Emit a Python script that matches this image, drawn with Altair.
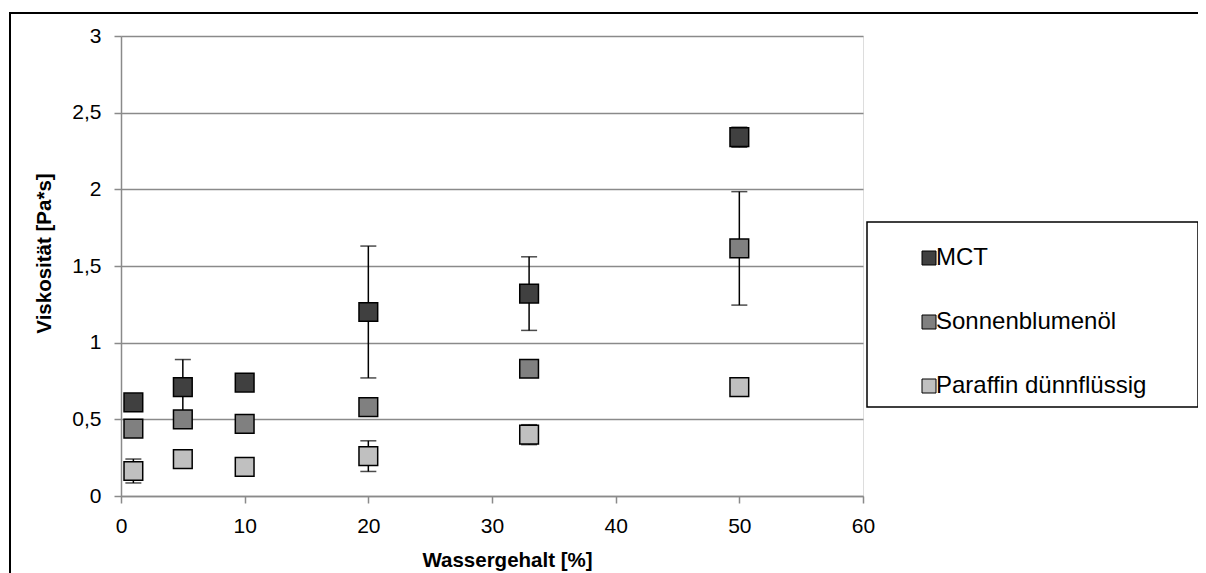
import altair as alt
import pandas as pd

x_vals = [1, 5, 10, 20, 33, 50]
series = ["MCT", "Sonnenblumenöl", "Paraffin dünnflüssig"]
mct = [0.61, 0.71, 0.74, 1.20, 1.32, 2.34]
mct_err = [0, 0.18, 0, 0.43, 0.24, 0.065]
sonnen = [0.44, 0.50, 0.47, 0.58, 0.83, 1.615]
sonnen_err = [0, 0, 0, 0, 0, 0.37]
paraffin = [0.163, 0.24, 0.19, 0.26, 0.40, 0.71]
paraffin_err = [0.078, 0, 0, 0.10, 0.065, 0]
colors = ["#404040", "#808080", "#c0c0c0"]
y_ticks = [0, 0.5, 1, 1.5, 2, 2.5, 3]
x_ticks = [0, 10, 20, 30, 40, 50, 60]

rows = []
for name, ys, es in zip(series, [mct, sonnen, paraffin], [mct_err, sonnen_err, paraffin_err]):
    for x, y, e in zip(x_vals, ys, es):
        rows.append({"x": x, "y": y, "err": e, "lo": y - e, "hi": y + e, "series": name})
df = pd.DataFrame(rows)
err_df = df[df["err"] > 0]
one = pd.DataFrame({"k": [0]})

FONT = "Liberation Sans"
GRID = "#8a8a8a"

xs = alt.Scale(domain=[0, 60], nice=False, zero=False)
ys = alt.Scale(domain=[0, 3], nice=False)

x_axis = alt.Axis(values=x_ticks, grid=False, domainColor=GRID, domainWidth=1.5,
                  tickColor=GRID, tickWidth=1.5, tickSize=7, labelFontSize=21,
                  labelFont=FONT, labelColor="black", labelPadding=12, labelFlush=False,
                  title="Wassergehalt [%]", titleFont=FONT, titleFontSize=20.5,
                  titleFontWeight="bold", titleColor="black", titleX=386,
                  titleY=70, titleBaseline="alphabetic", titleAlign="center")
y_axis = alt.Axis(values=y_ticks, grid=True, gridColor=GRID, gridWidth=1.5,
                  domainColor=GRID, domainWidth=1.5, tickColor=GRID, tickWidth=1.5,
                  tickSize=7, labelFontSize=21, labelFont=FONT, labelColor="black",
                  labelPadding=13, labelFlush=False,
                  labelExpr="replace(format(datum.value, '~g'), '.', ',')",
                  title="Viskosität [Pa*s]", titleFont=FONT, titleFontSize=20.5,
                  titleFontWeight="bold", titleColor="black", titleAngle=270,
                  titleX=-77, titleY=217, titleAlign="center", titleBaseline="middle")

border_left = alt.Chart(one).mark_rule(color="black", strokeWidth=2).encode(
    x=alt.value(-111), y=alt.value(-23), y2=alt.value(560))
border_top = alt.Chart(one).mark_rule(color="black", strokeWidth=2).encode(
    x=alt.value(-112), x2=alt.value(1090), y=alt.value(-23))
legend_box = alt.Chart(one).mark_rect(fill="white", stroke="black", strokeWidth=1.5).encode(
    x=alt.value(746), x2=alt.value(1077), y=alt.value(186), y2=alt.value(371))

base = alt.Chart(df)
err_rule = alt.Chart(err_df).mark_rule(color="black", strokeWidth=1.5).encode(
    x=alt.X("x:Q", scale=xs, axis=x_axis),
    y=alt.Y("lo:Q", scale=ys, axis=y_axis),
    y2="hi:Q")
cap_lo = alt.Chart(err_df).mark_tick(color="black", orient="horizontal", size=16, thickness=1.5).encode(
    x=alt.X("x:Q", scale=xs), y=alt.Y("lo:Q", scale=ys))
cap_hi = alt.Chart(err_df).mark_tick(color="black", orient="horizontal", size=16, thickness=1.5).encode(
    x=alt.X("x:Q", scale=xs), y=alt.Y("hi:Q", scale=ys))
points = base.mark_square(size=350, stroke="black", strokeWidth=1.5, opacity=1).encode(
    x=alt.X("x:Q", scale=xs),
    y=alt.Y("y:Q", scale=ys),
    fill=alt.Fill("series:N", sort=series,
                  scale=alt.Scale(domain=series, range=colors),
                  legend=alt.Legend(orient="none", legendX=796, legendY=210, title=None,
                                    symbolType="square", symbolSize=196,
                                    symbolStrokeColor="black", symbolStrokeWidth=1,
                                    symbolOpacity=1, labelFont=FONT, labelFontSize=24,
                                    labelColor="black", labelOffset={"expr": "-5"},
                                    rowPadding=40, padding=0, labelLimit=400)))

chart = alt.layer(border_left, border_top, legend_box, err_rule, cap_lo, cap_hi, points).properties(
    width=742, height=460,
    padding={"left": 113, "top": 28, "right": 335, "bottom": 77},
    autosize=alt.AutoSizeParams(type="none"),
).configure_view(stroke=None).configure(background="white")

chart.save("out.html", embed_options={"renderer": "svg", "actions": False})
